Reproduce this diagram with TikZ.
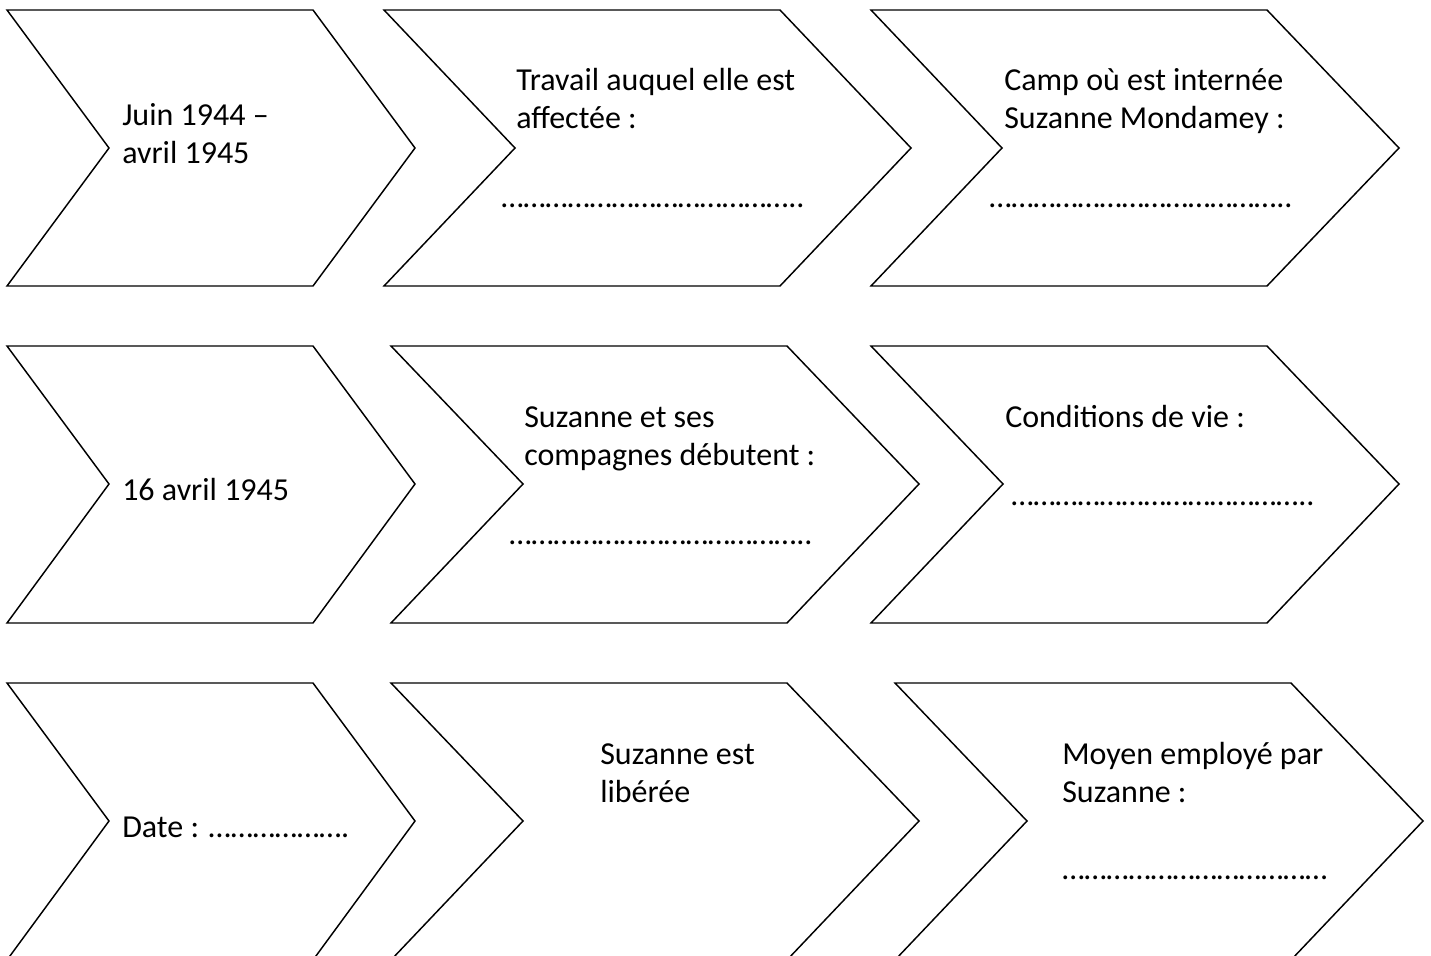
\documentclass[tikz,border=0pt]{standalone}
\usepackage{fontspec}
\setmainfont{Carlito}

\begin{document}
\begin{tikzpicture}[line cap=round,line join=round,x=0.75pt,y=-0.75pt,
        chevron/.style={line width=1.1pt,line join=miter},
        lbl/.style={anchor=base west,inner sep=0pt,align=left,font=\fontsize{24}{28.5}\selectfont}]
                \useasboundingbox (0,0) rectangle (1431,956);
                \clip (0,0) rectangle (1431,956);
                % ligne 1
                \draw [chevron] (7,10) -- (313,10) -- (415,148) -- (313,286) -- (7,286) -- (109,148) -- cycle;
                \draw [chevron] (384,10) -- (780,10) -- (911,148) -- (780,286) -- (384,286) -- (515,148) -- cycle;
                \draw [chevron] (871,10) -- (1267,10) -- (1399,148) -- (1267,286) -- (871,286) -- (1002,148) -- cycle;
                % ligne 2
                \draw [chevron] (7,346) -- (313,346) -- (415,484) -- (313,623) -- (7,623) -- (109,484) -- cycle;
                \draw [chevron] (391,346) -- (787,346) -- (919,484) -- (787,623) -- (391,623) -- (523,484) -- cycle;
                \draw [chevron] (871,346) -- (1267,346) -- (1399,484) -- (1267,623) -- (871,623) -- (1003,484) -- cycle;
                % ligne 3
                \draw [chevron] (7,683) -- (313,683) -- (415,821) -- (313,960) -- (7,960) -- (109,821) -- cycle;
                \draw [chevron] (391,683) -- (787,683) -- (919,821) -- (787,960) -- (391,960) -- (523,821) -- cycle;
                \draw [chevron] (895,683) -- (1291,683) -- (1423,821) -- (1291,960) -- (895,960) -- (1027,821) -- cycle;
                % textes (base = derniere ligne)
                \node [lbl] (juin) at (122,163) {Juin 1944 –\\avril 1945};
                \node [lbl] (travail) at (516,128) {Travail auquel elle est\\affectée :};
                \node [lbl] (travail-dots) at (501,207) {…………………………………..};
                \node [lbl] (camp) at (1004,128) {Camp où est internée\\Suzanne Mondamey :};
                \node [lbl] (camp-dots) at (989,207) {…………………………………..};
                \node [lbl] (avril) at (122,500) {16 avril 1945};
                \node [lbl] (debut) at (524,465) {Suzanne et ses\\compagnes débutent :};
                \node [lbl] (debut-dots) at (509,544) {…………………………………..};
                \node [lbl] (vie) at (1005,427) {Conditions de vie :};
                \node [lbl] (vie-dots) at (1011,505) {…………………………………..};
                \node [lbl] (date) at (122,837) {Date : ……………….};
                \node [lbl] (liberee) at (600,802) {Suzanne est\\libérée};
                \node [lbl] (moyen) at (1062,802) {Moyen employé par\\Suzanne :};
                \node [lbl] (moyen-dots) at (1062,879) {………………………………};
\end{tikzpicture}
\end{document}
